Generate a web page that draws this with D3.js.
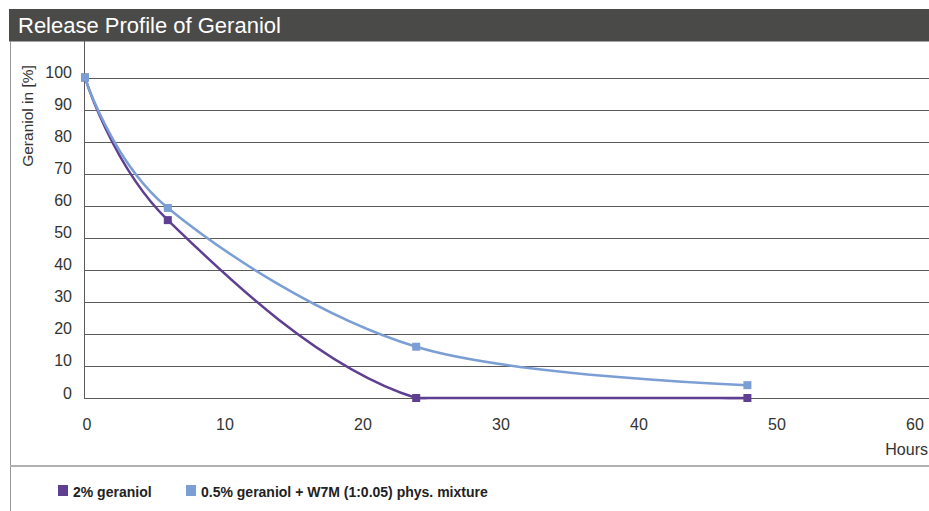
<!DOCTYPE html>
<html><head><meta charset="utf-8">
<script src="https://cdn.jsdelivr.net/npm/d3@7"></script>
<style>
html,body{margin:0;padding:0;background:#fff;}
svg{display:block;font-family:"Liberation Sans",Arial,Helvetica,sans-serif;}
</style></head>
<body>
<svg id="chart" width="929" height="511"></svg>
<script>
const title = "Release Profile of Geraniol";
const yTitle = "Geraniol in [%]";
const xTitle = "Hours";
const seriesNames = ["2% geraniol", "0.5% geraniol + W7M (1:0.05) phys. mixture"];
const seriesColors = ["#5e3f91", "#7b9fd5"];
const hours = [0, 6, 24, 48];
const geraniol2 = [100, 55.5, 0, 0];
const geraniolMix = [100, 59.3, 16, 4];
const xTicks = [0, 10, 20, 30, 40, 50, 60];
const yTicks = [0, 10, 20, 30, 40, 50, 60, 70, 80, 90, 100];

const svg = d3.select("#chart");
const W = 929, H = 511;

const x = d3.scaleLinear().domain([0, 60]).range([85, 913]);
const y = d3.scaleLinear().domain([0, 100]).range([398, 77.5]);

// title bar
svg.append("rect").attr("x", 9).attr("y", 9).attr("width", W - 9).attr("height", 32.5).attr("fill", "#4a4a48");
svg.append("text").attr("x", 18).attr("y", 33).attr("fill", "#fff").attr("font-size", 22).text(title);

// left border
svg.append("line").attr("x1", 10.5).attr("x2", 10.5).attr("y1", 41).attr("y2", H).attr("stroke", "#999").attr("stroke-width", 1);
// legend separator
svg.append("line").attr("x1", 10).attr("x2", W).attr("y1", 466).attr("y2", 466).attr("stroke", "#b0b0b0").attr("stroke-width", 2);

// gridlines
svg.append("g").selectAll("line").data(yTicks).join("line")
  .attr("x1", 84).attr("x2", W)
  .attr("y1", d => Math.round(y(d)) + 0.5).attr("y2", d => Math.round(y(d)) + 0.5)
  .attr("stroke", "#5a5a5a").attr("stroke-width", 1);
// y axis line
svg.append("line").attr("x1", 84.5).attr("x2", 84.5).attr("y1", 41).attr("y2", Math.round(y(0)) + 1).attr("stroke", "#5a5a5a").attr("stroke-width", 1);

// y tick labels
svg.append("g").selectAll("text").data(yTicks).join("text")
  .attr("x", 72).attr("y", d => y(d) + 0.5).attr("text-anchor", "end")
  .attr("font-size", 16).attr("fill", "#333").text(d => d);
// x tick labels
svg.append("g").selectAll("text").data(xTicks).join("text")
  .attr("x", d => x(d) + 2).attr("y", 430).attr("text-anchor", "middle")
  .attr("font-size", 16).attr("fill", "#333").text(d => d);
// axis titles
svg.append("text").attr("x", 928).attr("y", 455).attr("text-anchor", "end")
  .attr("font-size", 16).attr("fill", "#333").text(xTitle);
svg.append("text").attr("transform", "translate(33,116) rotate(-90)").attr("text-anchor", "middle")
  .attr("font-size", 15.5).attr("fill", "#333").text(yTitle);

// series
const s1 = hours.map((h, i) => [h, geraniol2[i]]);
const s2 = hours.map((h, i) => [h, geraniolMix[i]]);
const smooth = d3.line().x(d => x(d[0])).y(d => y(d[1])).curve(d3.curveCatmullRom.alpha(0));
const straight = d3.line().x(d => x(d[0])).y(d => y(d[1]));

// clip so a smoothed curve never dips below the zero line
svg.append("clipPath").attr("id", "abovezero").append("rect")
  .attr("x", 0).attr("y", 0).attr("width", W).attr("height", y(0) + 1.25);

// purple: smooth curve, flat where the values stay at zero
const firstZero = geraniol2.indexOf(0);
const g1 = svg.append("g");
g1.append("path").attr("d", smooth(s1)).attr("fill", "none").attr("clip-path", "url(#abovezero)")
  .attr("stroke", seriesColors[0]).attr("stroke-width", 2.5);
g1.append("path").attr("d", straight(s1.slice(firstZero))).attr("fill", "none")
  .attr("stroke", seriesColors[0]).attr("stroke-width", 2.5);
g1.selectAll("rect").data(s1).join("rect")
  .attr("x", d => x(d[0]) - 4).attr("y", d => y(d[1]) - 4).attr("width", 8).attr("height", 8)
  .attr("fill", seriesColors[0]);

const g2 = svg.append("g");
g2.append("path").attr("d", smooth(s2)).attr("fill", "none")
  .attr("stroke", seriesColors[1]).attr("stroke-width", 2.5);
g2.selectAll("rect").data(s2).join("rect")
  .attr("x", d => x(d[0]) - 4).attr("y", d => y(d[1]) - 4).attr("width", 8).attr("height", 8)
  .attr("fill", seriesColors[1]);

// legend
const legX = [58, 186];
const lg = svg.append("g");
seriesNames.forEach((n, i) => {
  lg.append("rect").attr("x", legX[i]).attr("y", 485).attr("width", 10).attr("height", 11).attr("fill", seriesColors[i]);
  lg.append("text").attr("x", legX[i] + 15).attr("y", 497).attr("font-size", 14).attr("font-weight", "bold")
    .attr("fill", "#222").text(n);
});
</script>
</body></html>
